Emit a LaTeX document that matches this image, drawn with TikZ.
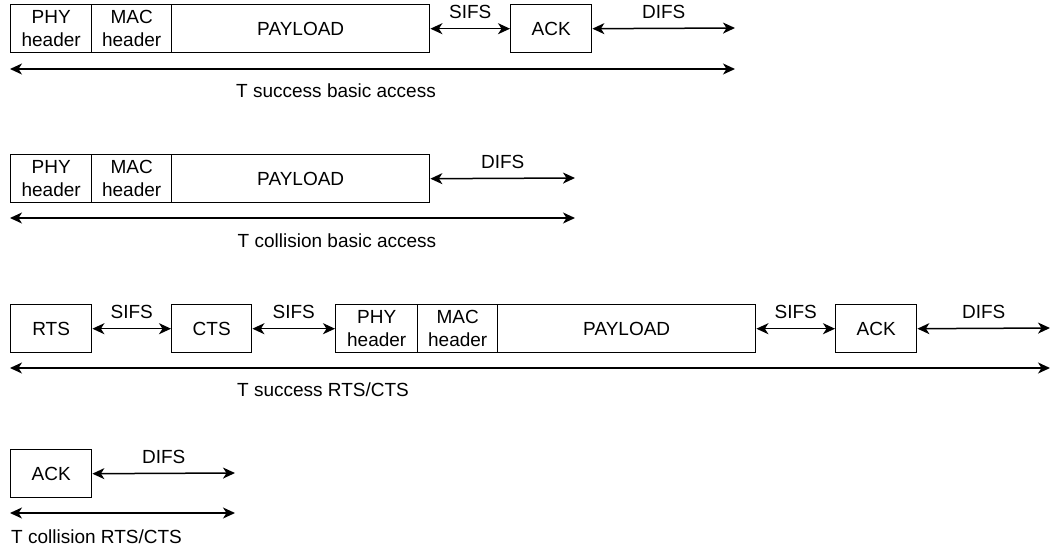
\documentclass[tikz,border=0pt]{standalone}
\usepackage{fontspec}
\setmainfont{Liberation Sans}
\usetikzlibrary{arrows.meta}
\begin{document}
\begin{tikzpicture}[x=1pt,y=-1pt,
  cell/.style={draw, line width=1.4pt, minimum height=48pt, inner sep=0pt,
    anchor=north west, align=center, font=\fontsize{19}{22.5}\selectfont},
  span/.style={line width=1.5pt, {Stealth[length=12pt,width=11pt,inset=3.5pt]}-{Stealth[length=12pt,width=11pt,inset=3.5pt]}},
  gap/.style={font=\fontsize{19}{22.5}\selectfont, anchor=base, yshift=10pt, inner sep=0pt},
  caption/.style={font=\fontsize{19}{22.5}\selectfont, inner sep=0pt}]
\useasboundingbox (0,0) rectangle (1058,552);
% Row 1
\node[cell, minimum width=81pt] (phy1) at (10,4) {PHY\\header};
\node[cell, minimum width=80pt] (mac1) at (91,4) {MAC\\header};
\node[cell, minimum width=258pt] (pay1) at (171,4) {PAYLOAD};
\node[cell, minimum width=81pt] (ack1) at (510,4) {ACK};
\coordinate (d1) at (735,28);
\coordinate (t1a) at (10,69);
\coordinate (t1b) at (735,69);
\draw[span] (pay1.east) -- node[gap] {SIFS} (ack1.west);
\draw[span] (ack1.east) -- node[gap] {DIFS} (d1);
\draw[span] (t1a) -- (t1b);
\node[caption, anchor=base] (c1) at (336,97) {T success basic access};
% Row 2
\node[cell, minimum width=81pt] (phy2) at (10,154) {PHY\\header};
\node[cell, minimum width=80pt] (mac2) at (91,154) {MAC\\header};
\node[cell, minimum width=258pt] (pay2) at (171,154) {PAYLOAD};
\coordinate (d2) at (575,178);
\coordinate (t2a) at (10,218);
\coordinate (t2b) at (575,218);
\draw[span] (pay2.east) -- node[gap] {DIFS} (d2);
\draw[span] (t2a) -- (t2b);
\node[caption, anchor=base] (c2) at (337,247) {T collision basic access};
% Row 3
\node[cell, minimum width=81pt] (rts3) at (10,304) {RTS};
\node[cell, minimum width=80pt] (cts3) at (171,304) {CTS};
\node[cell, minimum width=82pt] (phy3) at (335,304) {PHY\\header};
\node[cell, minimum width=80pt] (mac3) at (417,304) {MAC\\header};
\node[cell, minimum width=258pt] (pay3) at (497,304) {PAYLOAD};
\node[cell, minimum width=81pt] (ack3) at (835,304) {ACK};
\coordinate (d3) at (1050,328);
\coordinate (t3a) at (10,368);
\coordinate (t3b) at (1050,368);
\draw[span] (rts3.east) -- node[gap] {SIFS} (cts3.west);
\draw[span] (cts3.east) -- node[gap] {SIFS} (phy3.west);
\draw[span] (pay3.east) -- node[gap] {SIFS} (ack3.west);
\draw[span] (ack3.east) -- node[gap] {DIFS} (d3);
\draw[span] (t3a) -- (t3b);
\node[caption, anchor=base] (c3) at (323,396) {T success RTS/CTS};
% Row 4
\node[cell, minimum width=81pt] (ack4) at (10,449) {ACK};
\coordinate (d4) at (235,473);
\coordinate (t4a) at (10,513);
\coordinate (t4b) at (235,513);
\draw[span] (ack4.east) -- node[gap] {DIFS} (d4);
\draw[span] (t4a) -- (t4b);
\node[caption, anchor=base west] (c4) at (11,543) {T collision RTS/CTS};
\end{tikzpicture}
\end{document}
